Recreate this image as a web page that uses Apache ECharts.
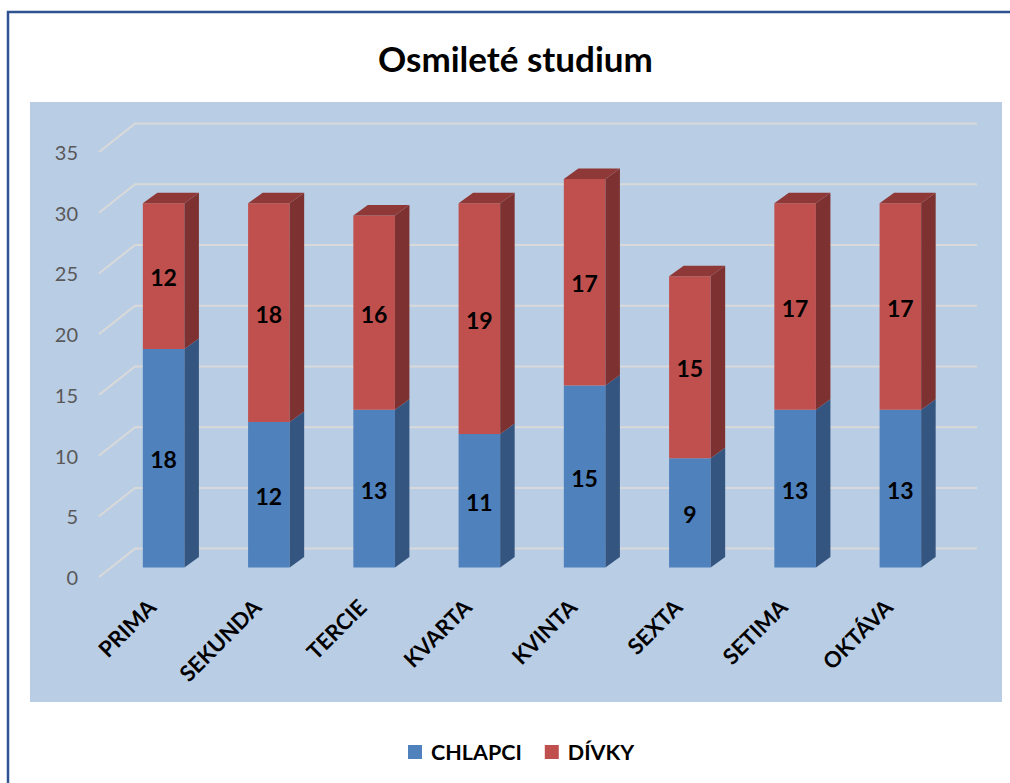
<!DOCTYPE html>
<html>
<head>
<meta charset="utf-8">
<script src="https://cdn.jsdelivr.net/npm/echarts@6/dist/echarts.min.js"></script>
<style>
html,body{margin:0;padding:0;background:#fff;}
#chart{width:1010px;height:783px;}
</style>
</head>
<body>
<div id="chart"></div>
<script>
const categories = ['PRIMA','SEKUNDA','TERCIE','KVARTA','KVINTA','SEXTA','SETIMA','OKTÁVA'];
const chlapci = [18,12,13,11,15,9,13,13];
const divky = [12,18,16,19,17,15,17,17];
const yTicks = [0,5,10,15,20,25,30,35];
const seriesNames = ['CHLAPCI','DÍVKY'];

const FONT = 'Lato, "Open Sans", sans-serif';
const DEPTH_X = 36, DEPTH_Y = 28.4;      // floor depth
const OFF_X = 12, OFF_Y = 9.4;           // bar front offset inside floor
const BAR_DX = 14.5, BAR_DY = 10.5;      // bar depth

function barRenderer(front, side, topc) {
  return function (params, api) {
    const idx = api.value(0), base = api.value(1), top = api.value(2), isTop = api.value(3);
    const band = api.size([1, 0])[0];
    const w = band * 0.395;
    const pt = api.coord([idx, top]);
    const pb = api.coord([idx, base]);
    const cx = pt[0] + OFF_X;
    const xl = cx - w / 2, xr = cx + w / 2;
    const yt = pt[1] - OFF_Y, yb = pb[1] - OFF_Y;
    const children = [
      {type: 'rect', shape: {x: xl, y: yt, width: w, height: yb - yt}, style: {fill: front}},
      {type: 'polygon', shape: {points: [[xr, yt], [xr + BAR_DX, yt - BAR_DY], [xr + BAR_DX, yb - BAR_DY], [xr, yb]]}, style: {fill: side}}
    ];
    if (isTop) {
      children.push({type: 'polygon', shape: {points: [[xl, yt], [xr, yt], [xr + BAR_DX, yt - BAR_DY], [xl + BAR_DX, yt - BAR_DY]]}, style: {fill: topc}});
    }
    children.push({type: 'text', style: {text: String(top - base), x: cx, y: (yt + yb) / 2 + 1, align: 'center', verticalAlign: 'middle', fontSize: 23, fontWeight: 'bold', fontFamily: FONT, fill: '#000'}});
    return {type: 'group', children: children};
  };
}

const chart = echarts.init(document.getElementById('chart'), null, {renderer: 'svg'});
chart.setOption({
  animation: false,
  backgroundColor: '#fff',
  title: {text: 'Osmileté studium', left: 373, top: 35,
    textStyle: {fontFamily: FONT, fontSize: 35, fontWeight: 'bold', color: '#000'}},
  graphic: [
    {type: 'rect', z: 0, shape: {x: 8, y: 12, width: 1010, height: 800}, style: {fill: 'none', stroke: '#2F5290', lineWidth: 2.5}},
    {type: 'rect', z: 0, shape: {x: 30, y: 102, width: 972, height: 600}, style: {fill: '#B9CDE5'}}
  ],
  legend: {data: seriesNames, left: 403, top: 736, icon: 'rect', itemWidth: 14, itemHeight: 14, itemGap: 23,
    textStyle: {fontFamily: FONT, fontSize: 21.5, fontWeight: 'bold', color: '#000', padding: [0, 0, 0, 4]}},
  grid: {left: 99, top: 152, width: 842, height: 425, containLabel: false},
  xAxis: {type: 'category', data: categories,
    axisLine: {show: false}, axisTick: {show: false}, splitLine: {show: false},
    axisLabel: {rotate: 45, margin: 26, fontFamily: FONT, fontSize: 22, fontWeight: 'bold', color: '#000', interval: 0}},
  yAxis: {type: 'value', min: 0, max: 35, interval: 5,
    axisLine: {show: false}, axisTick: {show: false}, splitLine: {show: false},
    axisLabel: {margin: 21, fontFamily: FONT, fontSize: 20, color: '#595959'}},
  series: [
    {type: 'custom', name: 'grid3d', silent: true, z: 1,
      data: yTicks.map(v => [0, v]),
      encode: {x: 0, y: 1},
      renderItem: function (params, api) {
        const cs = params.coordSys;
        const y = api.coord([0, api.value(1)])[1];
        return {type: 'polyline', shape: {points: [[cs.x, y], [cs.x + DEPTH_X, y - DEPTH_Y], [cs.x + cs.width + DEPTH_X, y - DEPTH_Y]]},
          style: {stroke: '#D9D9D9', lineWidth: 2, fill: 'none'}};
      }},
    {type: 'custom', name: seriesNames[0], z: 3, itemStyle: {color: '#4F81BD'},
      data: chlapci.map((v, i) => [i, 0, v, 0]),
      encode: {x: 0, y: 2},
      renderItem: barRenderer('#4F81BD', '#34557F', '#3E6699')},
    {type: 'custom', name: seriesNames[1], z: 4, itemStyle: {color: '#C0504D'},
      data: divky.map((v, i) => [i, chlapci[i], chlapci[i] + v, 1]),
      encode: {x: 0, y: 2},
      renderItem: barRenderer('#C0504D', '#7D3130', '#8E3937')}
  ]
});
</script>
</body>
</html>
